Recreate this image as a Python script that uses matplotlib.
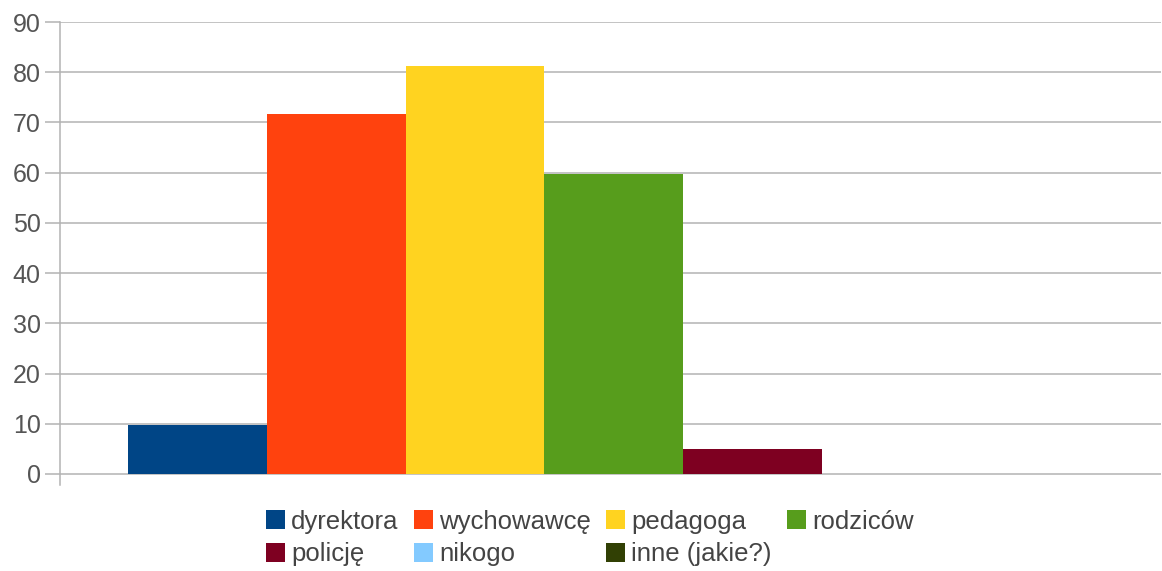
import matplotlib
matplotlib.use('Agg')
from matplotlib import pyplot as plt
import numpy as np

'''
    Single-category grouped bar chart (LibreOffice style)
'''

series = ['dyrektora', 'wychowawcę', 'pedagoga', 'rodziców', 'policję', 'nikogo', 'inne (jakie?)']
values = [9.8, 71.7, 81.3, 59.8, 5.0, 0, 0]
colors = ['#004586', '#ff420e', '#ffd320', '#579d1c', '#7e0021', '#83caff', '#314004']
yticks = [0, 10, 20, 30, 40, 50, 60, 70, 80, 90]

plt.rcParams['font.family'] = ['Liberation Sans', 'DejaVu Sans']

W, H = 1162, 571
fig = plt.figure(figsize=(W / 100, H / 100), dpi=100)
ax = fig.add_axes([60 / W, 1 - 485 / H, 1101 / W, (485 - 22) / H])

grid_col = '#b3b3b3'
group = 0.882
bw = group / len(series)
x0 = -0.438

handles = []
for i, (name, v, c) in enumerate(zip(series, values, colors)):
    b = ax.bar(x0 + i * bw, v, width=bw, align='edge', color=c, label=name, zorder=3)
    handles.append(b)

ax.set_xlim(-0.5, 0.5)
ax.set_ylim(-2.2, 90)
ax.set_yticks(yticks)
ax.set_xticks([])
ax.yaxis.grid(True, color=grid_col, linewidth=1.1, zorder=0)
ax.tick_params(axis='y', length=11, width=1.1, color=grid_col, labelcolor='#555555',
               labelsize=18, pad=3)

for s in ['top', 'right', 'bottom']:
    ax.spines[s].set_visible(False)
ax.spines['left'].set_color(grid_col)
ax.spines['left'].set_linewidth(1.1)

# legend fills column-first, so reorder to get the row layout of the original
order = [0, 4, 1, 5, 2, 6, 3]
leg = fig.legend([handles[i] for i in order], [series[i] for i in order],
                 loc='center', bbox_to_anchor=(590 / W, 1 - 538 / H), ncol=4,
                 frameon=False, fontsize=18.5, handlelength=0.72, handleheight=0.72,
                 handletextpad=0.25, columnspacing=0.6, labelspacing=0.35)
for t in leg.get_texts():
    t.set_color('#444444')

fig.savefig('out.png', dpi=100)
